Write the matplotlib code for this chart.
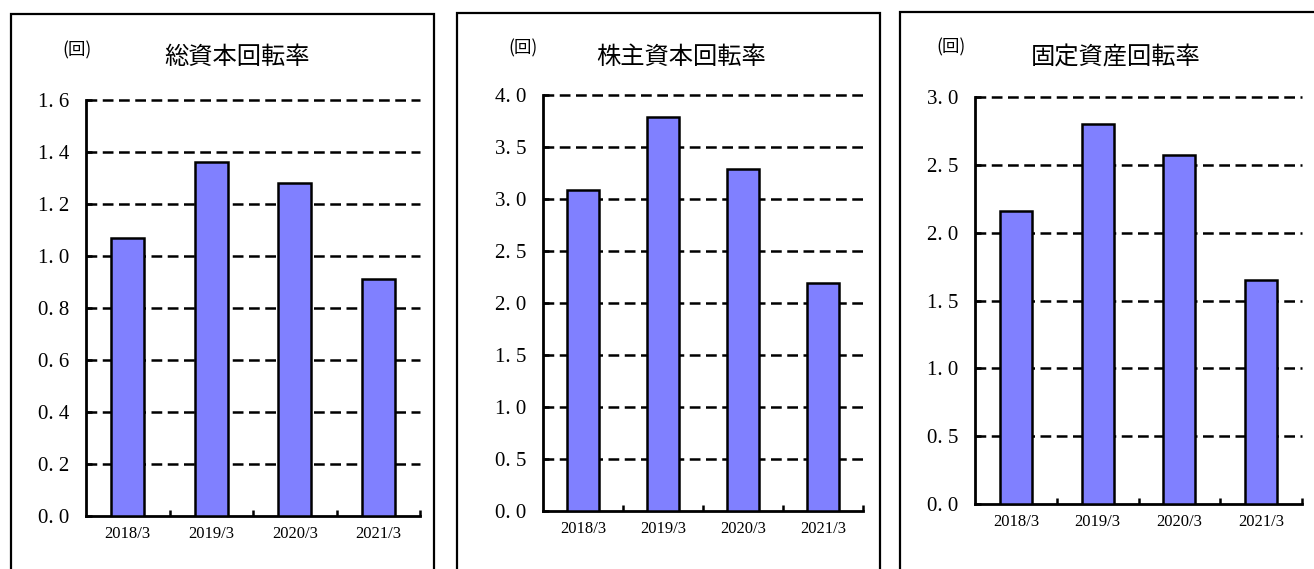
import matplotlib
matplotlib.use("Agg")
import matplotlib.pyplot as plt
from matplotlib.patches import Rectangle
from matplotlib.ticker import FixedLocator

plt.rcParams['font.family'] = ['Noto Sans CJK JP', 'DejaVu Sans']

categories = ["2018/3", "2019/3", "2020/3", "2021/3"]
titles = ["総資本回転率", "株主資本回転率", "固定資産回転率"]
unit_label = "(回)"
total_capital_turnover = [1.07, 1.36, 1.28, 0.91]
equity_turnover = [3.09, 3.79, 3.29, 2.19]
fixed_asset_turnover = [2.16, 2.80, 2.57, 1.65]
y_ticks_1 = [0.0, 0.2, 0.4, 0.6, 0.8, 1.0, 1.2, 1.4, 1.6]
y_ticks_2 = [0.0, 0.5, 1.0, 1.5, 2.0, 2.5, 3.0, 3.5, 4.0]
y_ticks_3 = [0.0, 0.5, 1.0, 1.5, 2.0, 2.5, 3.0]

W, H = 1314, 569
fig = plt.figure(figsize=(W / 100, H / 100), dpi=100)

panels = [
    dict(vals=total_capital_turnover, ticks=y_ticks_1, title=titles[0],
         ax=(86, 420, 100, 516), border=(10.5, 434, 14), tx=237, ty=57, ux=77, uy=50),
    dict(vals=equity_turnover, ticks=y_ticks_2, title=titles[1],
         ax=(543, 863, 95, 511), border=(456.5, 880, 13), tx=681, ty=57, ux=523, uy=48),
    dict(vals=fixed_asset_turnover, ticks=y_ticks_3, title=titles[2],
         ax=(975, 1302, 97, 504), border=(900, 1330, 12), tx=1116, ty=58, ux=951, uy=47),
]

serif = ['Liberation Serif', 'DejaVu Serif']

for p in panels:
    l, r, t, b = p['ax']
    ax = fig.add_axes([l / W, 1 - b / H, (r - l) / W, (b - t) / H])
    x = list(range(len(categories)))
    ax.bar(x, p['vals'], width=0.39, color='#8080FF', edgecolor='black',
           linewidth=1.8, zorder=3)
    ax.set_xlim(-0.5, len(categories) - 0.5)
    ax.set_ylim(p['ticks'][0], p['ticks'][-1])
    ax.set_yticks(p['ticks'])
    ax.set_yticklabels([f"{v:.1f}".replace('.', '. ') for v in p['ticks']],
                       fontfamily=serif, fontsize=15)
    ax.set_xticks(x)
    ax.set_xticklabels(categories, fontfamily=serif, fontsize=12)
    ax.xaxis.set_minor_locator(FixedLocator([i + 0.5 for i in range(len(categories))]))
    ax.tick_params(axis='x', which='major', length=0, pad=7)
    ax.tick_params(axis='x', which='minor', direction='in', length=4, width=1.8)
    ax.tick_params(axis='y', which='major', direction='in', length=4, width=1.8, pad=12)
    for s in ['top', 'right']:
        ax.spines[s].set_visible(False)
    for s in ['left', 'bottom']:
        ax.spines[s].set_linewidth(2.0)
    for v in p['ticks'][1:]:
        ax.axhline(v, color='black', linestyle=(0, (4.3, 2.2)), linewidth=1.8,
                   zorder=1, clip_on=False)
    fig.text(p['tx'] / W, 1 - p['ty'] / H, p['title'], ha='center', va='center',
             fontsize=17.5)
    fig.text(p['ux'] / W, 1 - p['uy'] / H, unit_label, ha='center', va='center',
             fontsize=12.5)
    bl, br, bt = p['border']
    fig.add_artist(Rectangle((bl / W, -0.05), (br - bl) / W, 1 - bt / H + 0.05,
                             transform=fig.transFigure, fill=False,
                             edgecolor='black', linewidth=1.6, clip_on=False))

fig.savefig("out.png", dpi=100)
